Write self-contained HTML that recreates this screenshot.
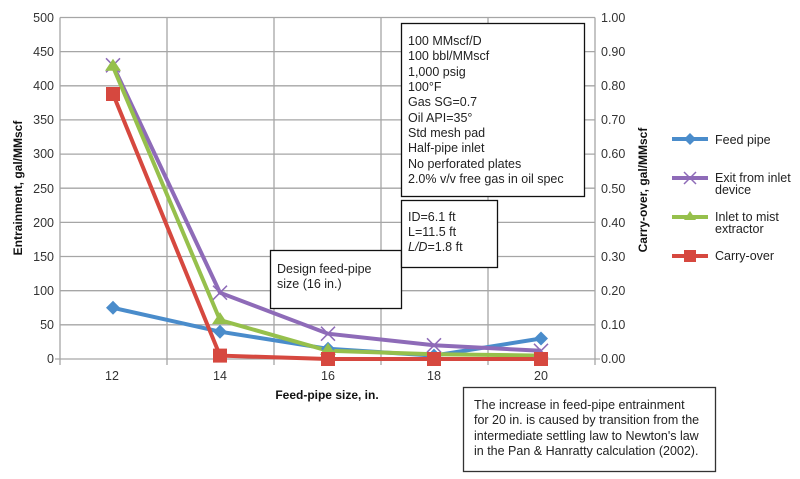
<!DOCTYPE html>
<html><head><meta charset="utf-8"><style>
body{margin:0;background:#fff}
svg{display:block;font-family:"Liberation Sans",Arial,sans-serif}
</style></head><body>
<svg width="800" height="479" viewBox="0 0 800 479">
<g stroke="#a6a6a6" stroke-width="1.3" fill="none">
<line x1="60" y1="17.5" x2="595" y2="17.5"/><line x1="60" y1="51.6" x2="595" y2="51.6"/><line x1="60" y1="85.8" x2="595" y2="85.8"/><line x1="60" y1="119.9" x2="595" y2="119.9"/><line x1="60" y1="154.1" x2="595" y2="154.1"/><line x1="60" y1="188.2" x2="595" y2="188.2"/><line x1="60" y1="222.4" x2="595" y2="222.4"/><line x1="60" y1="256.5" x2="595" y2="256.5"/><line x1="60" y1="290.7" x2="595" y2="290.7"/><line x1="60" y1="324.8" x2="595" y2="324.8"/><line x1="55" y1="359" x2="600" y2="359"/>
<line x1="60" y1="17.5" x2="60" y2="365"/><line x1="167" y1="17.5" x2="167" y2="365"/><line x1="274" y1="17.5" x2="274" y2="365"/><line x1="381" y1="17.5" x2="381" y2="365"/><line x1="488" y1="17.5" x2="488" y2="365"/><line x1="595" y1="17.5" x2="595" y2="365"/>
</g>
<g font-size="12.5" fill="#333" text-anchor="end">
<text x="54" y="22">500</text><text x="54" y="56">450</text><text x="54" y="90">400</text><text x="54" y="124">350</text><text x="54" y="158">300</text><text x="54" y="193">250</text><text x="54" y="227">200</text><text x="54" y="261">150</text><text x="54" y="295">100</text><text x="54" y="329">50</text><text x="54" y="363">0</text>
</g>
<g font-size="12.5" fill="#333">
<text x="601" y="22">1.00</text><text x="601" y="56">0.90</text><text x="601" y="90">0.80</text><text x="601" y="124">0.70</text><text x="601" y="158">0.60</text><text x="601" y="193">0.50</text><text x="601" y="227">0.40</text><text x="601" y="261">0.30</text><text x="601" y="295">0.20</text><text x="601" y="329">0.10</text><text x="601" y="363">0.00</text>
</g>
<g font-size="12.5" fill="#333" text-anchor="middle">
<text x="112" y="380">12</text><text x="220" y="380">14</text><text x="328" y="380">16</text><text x="434" y="380">18</text><text x="541" y="380">20</text>
</g>
<text x="327" y="399" font-size="12" font-weight="bold" text-anchor="middle" fill="#111">Feed-pipe size, in.</text>
<text transform="translate(22,188) rotate(-90)" font-size="12" font-weight="bold" text-anchor="middle" fill="#111">Entrainment, gal/MMscf</text>
<text transform="translate(250,190) rotate(-90)" font-size="12" font-weight="bold" text-anchor="middle" fill="#111" x="0" y="0" dx="0" dy="0" style="display:none"></text>
<text transform="translate(647,190) rotate(-90)" font-size="12" font-weight="bold" text-anchor="middle" fill="#111">Carry-over, gal/MMscf</text>
<!-- series -->
<polyline points="113,307.8 220,331.7 328,348.8 434,355.6 541,338.5" fill="none" stroke="#4a8ccb" stroke-width="4"/>
<polyline points="113,65.3 220,292.7 328,333.7 434,345.3 541,350.8" fill="none" stroke="#8e6bb8" stroke-width="4"/>
<polyline points="113,66.7 220,320.1 328,350.8 434,354.2 541,355.6" fill="none" stroke="#96c04c" stroke-width="4"/>
<polyline points="113,94 220,355.6 328,359 434,359 541,359" fill="none" stroke="#d6483f" stroke-width="4"/>
<g fill="#4a8ccb">
<path d="M113,300.8l7,7l-7,7l-7,-7z"/><path d="M220,324.7l7,7l-7,7l-7,-7z"/><path d="M328,341.8l7,7l-7,7l-7,-7z"/><path d="M434,348.6l7,7l-7,7l-7,-7z"/><path d="M541,331.5l7,7l-7,7l-7,-7z"/>
</g>
<g stroke="#8e6bb8" stroke-width="1.5">
<path d="M106,58.3l14,14M120,58.3l-14,14M213,285.7l14,14M227,285.7l-14,14M321,326.7l14,14M335,326.7l-14,14M427,338.3l14,14M441,338.3l-14,14M534,343.8l14,14M548,343.8l-14,14"/>
</g>
<g fill="#96c04c">
<path d="M113,58.7l8,12h-16z"/><path d="M220,312.1l8,12h-16z"/><path d="M328,342.8l8,12h-16z"/>
</g>
<g fill="#d6483f">
<rect x="106" y="87" width="14" height="14"/><rect x="213" y="348.6" width="14" height="14"/><rect x="321" y="352" width="14" height="14"/><rect x="427" y="352" width="14" height="14"/><rect x="534" y="352" width="14" height="14"/>
</g>
<!-- boxes -->
<rect x="270.5" y="250.5" width="131" height="58" fill="#fff" stroke="#111" stroke-width="1.3"/>
<text font-size="12.5" fill="#222"><tspan x="277" y="273">Design feed-pipe</tspan><tspan x="277" y="288">size (16 in.)</tspan></text>
<rect x="401.5" y="200.5" width="96" height="67" fill="#fff" stroke="#111" stroke-width="1.3"/>
<text font-size="12.5" fill="#222"><tspan x="408" y="221">ID=6.1 ft</tspan><tspan x="408" y="236">L=11.5 ft</tspan><tspan x="408" y="251"><tspan font-style="italic">L/D</tspan>=1.8 ft</tspan></text>
<rect x="401.5" y="23.5" width="183" height="173" fill="#fff" stroke="#111" stroke-width="1.3"/>
<text font-size="12.5" fill="#222"><tspan x="408" y="45">100 MMscf/D</tspan><tspan x="408" y="60">100 bbl/MMscf</tspan><tspan x="408" y="76">1,000 psig</tspan><tspan x="408" y="91">100°F</tspan><tspan x="408" y="106">Gas SG=0.7</tspan><tspan x="408" y="122">Oil API=35°</tspan><tspan x="408" y="137">Std mesh pad</tspan><tspan x="408" y="152">Half-pipe inlet</tspan><tspan x="408" y="168">No perforated plates</tspan><tspan x="408" y="183">2.0% v/v free gas in oil spec</tspan></text>
<rect x="463.5" y="387.5" width="252" height="84" fill="#fff" stroke="#333" stroke-width="1.3"/>
<text font-size="12.5" fill="#222"><tspan x="474" y="409">The increase in feed-pipe entrainment</tspan><tspan x="474" y="424">for 20 in. is caused by transition from the</tspan><tspan x="474" y="440">intermediate settling law to Newton's law</tspan><tspan x="474" y="455">in the Pan &amp; Hanratty calculation (2002).</tspan></text>
<!-- legend -->
<line x1="672" y1="139" x2="708" y2="139" stroke="#4a8ccb" stroke-width="4"/><path d="M690,133l6,6l-6,6l-6,-6z" fill="#4a8ccb"/>
<line x1="672" y1="178" x2="708" y2="178" stroke="#8e6bb8" stroke-width="4"/><path d="M684,172l12,12M696,172l-12,12" stroke="#8e6bb8" stroke-width="1.5"/>
<line x1="672" y1="217" x2="708" y2="217" stroke="#96c04c" stroke-width="4"/><path d="M690,211l6,9h-12z" fill="#96c04c"/>
<line x1="672" y1="256" x2="708" y2="256" stroke="#d6483f" stroke-width="4"/><rect x="684" y="250" width="12" height="12" fill="#d6483f"/>
<g font-size="12.5" fill="#222">
<text x="715" y="144">Feed pipe</text>
<text x="715" y="182">Exit from inlet</text><text x="715" y="194">device</text>
<text x="715" y="221">Inlet to mist</text><text x="715" y="233">extractor</text>
<text x="715" y="260">Carry-over</text>
</g>
</svg>
</body></html>
